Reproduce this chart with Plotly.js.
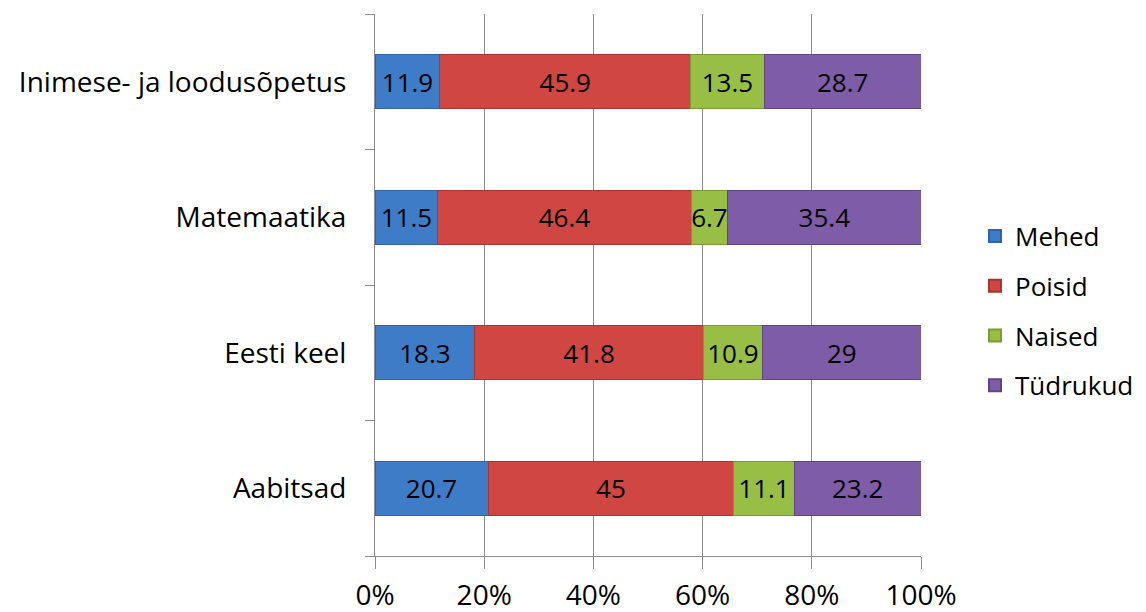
<!DOCTYPE html>
<html>
<head>
<meta charset="utf-8">
<script src="https://cdn.plot.ly/plotly-3.0.1.min.js"></script>
<style>html,body{margin:0;padding:0;background:#fff;}#chart{width:1146px;height:612px;}</style>
</head>
<body>
<div id="chart"></div>
<script>
var categories = ["Aabitsad", "Eesti keel", "Matemaatika", "Inimese- ja loodusõpetus"];
var seriesNames = ["Mehed", "Poisid", "Naised", "Tüdrukud"];
var mehed = [20.7, 18.3, 11.5, 11.9];
var poisid = [45, 41.8, 46.4, 45.9];
var naised = [11.1, 10.9, 6.7, 13.5];
var tydrukud = [23.2, 29, 35.4, 28.7];
var xTickVals = [0, 20, 40, 60, 80, 100];
var xTickText = ["0%", "20%", "40%", "60%", "80%", "100%"];

var values = [mehed, poisid, naised, tydrukud];
var colors = ["#3F7CC8", "#CF4642", "#98BE45", "#7E5CA8"];
var borders = ["#2F64A8", "#A83532", "#7A9C33", "#5F4585"];
var FONT = "Open Sans, sans-serif";

var traces = values.map(function (v, i) {
  return {
    type: "bar",
    orientation: "h",
    name: seriesNames[i],
    legendgroup: "g" + i,
    y: categories,
    x: v,
    text: v.map(function (d) { return String(d); }),
    textposition: "inside",
    insidetextanchor: "middle",
    textangle: 0,
    constraintext: "none",
    textfont: { family: FONT, size: 26, color: "#000" },
    marker: { color: colors[i], line: { color: borders[i], width: 1 } },
    hoverinfo: "none"
  };
});

var W = 1146, ML = 375, MR = 6;
var paperW = W - ML - MR;
var plotRight = 921;

var layout = {
  width: W,
  height: 612,
  barmode: "stack",
  bargap: 0.6,
  paper_bgcolor: "#fff",
  plot_bgcolor: "#fff",
  margin: { l: ML, r: MR, t: 14, b: 56 },
  font: { family: FONT, size: 26, color: "#000" },
  xaxis: {
    domain: [0, (plotRight - ML) / paperW],
    range: [0, 100],
    tickvals: xTickVals,
    ticktext: xTickText,
    showgrid: true,
    gridcolor: "#8C8C8C",
    gridwidth: 1,
    showline: true,
    linecolor: "#8C8C8C",
    ticks: "outside",
    ticklen: 12,
    tickcolor: "#8C8C8C",
    tickfont: { family: FONT, size: 28, color: "#000" },
    ticklabelstandoff: 2,
    zeroline: false,
    fixedrange: true
  },
  yaxis: {
    type: "category",
    categoryorder: "array",
    categoryarray: categories,
    showline: true,
    linecolor: "#8C8C8C",
    ticks: "outside",
    tickson: "boundaries",
    ticklen: 9,
    tickcolor: "#8C8C8C",
    showgrid: false,
    tickfont: { family: FONT, size: 28, color: "#000" },
    ticklabelstandoff: 22,
    fixedrange: true
  },
  legend: {
    x: (975 - ML) / paperW,
    xanchor: "left",
    y: 0.452,
    yanchor: "middle",
    font: { family: FONT, size: 26, color: "#000" },
    traceorder: "grouped",
    tracegroupgap: 13,
    itemsizing: "constant"
  },
  showlegend: true
};

Plotly.newPlot("chart", traces, layout, { displayModeBar: false, staticPlot: true });
</script>
</body>
</html>
